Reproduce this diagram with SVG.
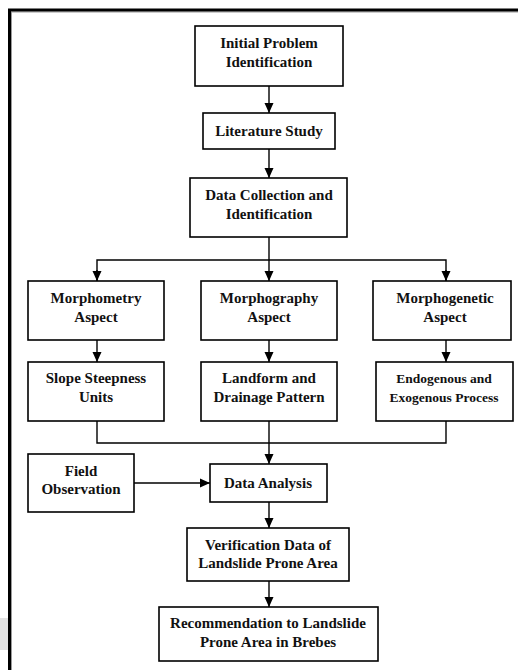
<svg xmlns="http://www.w3.org/2000/svg" width="518" height="670" viewBox="0 0 518 670">
<defs>
<style>
.box{fill:#fff;stroke:#000;stroke-width:1.6}
text{font-family:'Liberation Serif','DejaVu Serif',serif;font-weight:bold;font-size:15px;fill:#111;text-anchor:middle}
text.s{font-size:13.5px}
.c{fill:none;stroke:#000;stroke-width:1.4}
</style>
<marker id="ah" viewBox="0 0 10 10" refX="10" refY="5" markerWidth="10" markerHeight="10" markerUnits="userSpaceOnUse" orient="auto">
<path d="M0,0.5 L10,5 L0,9.5 Z" fill="#000"/>
</marker>
</defs>
<rect x="0" y="0" width="518" height="670" fill="#fff"/>
<rect x="0" y="618" width="8" height="32" fill="#e2e2e2"/>
<g id="frame">
<line x1="11" y1="12" x2="518" y2="12" stroke="#9a9a9a" stroke-width="1"/>
<line x1="11.5" y1="12" x2="11.5" y2="670" stroke="#9a9a9a" stroke-width="1"/>
<line x1="8" y1="10" x2="518" y2="10" stroke="#000" stroke-width="3"/>
<line x1="9.5" y1="9" x2="9.5" y2="670" stroke="#000" stroke-width="3"/>
</g>
<g id="connectors">
<line class="c" x1="269" y1="86" x2="269" y2="113" marker-end="url(#ah)"/>
<line class="c" x1="269" y1="149" x2="269" y2="178" marker-end="url(#ah)"/>
<line class="c" x1="269" y1="237" x2="269" y2="281" marker-end="url(#ah)"/>
<polyline class="c" points="97,281 97,260 446,260 446,281"/>
<line class="c" x1="97" y1="270" x2="97" y2="281" marker-end="url(#ah)"/>
<line class="c" x1="446" y1="270" x2="446" y2="281" marker-end="url(#ah)"/>
<line class="c" x1="97" y1="340" x2="97" y2="362" marker-end="url(#ah)"/>
<line class="c" x1="269" y1="340" x2="269" y2="362" marker-end="url(#ah)"/>
<line class="c" x1="446" y1="340" x2="446" y2="362" marker-end="url(#ah)"/>
<polyline class="c" points="97,421 97,443 446,443 446,421"/>
<line class="c" x1="269" y1="421" x2="269" y2="464" marker-end="url(#ah)"/>
<line class="c" x1="134" y1="483" x2="210" y2="483" marker-end="url(#ah)"/>
<line class="c" x1="269" y1="502" x2="269" y2="528" marker-end="url(#ah)"/>
<line class="c" x1="269" y1="581" x2="269" y2="607" marker-end="url(#ah)"/>
</g>
<g id="initial">
<rect class="box" x="195" y="26" width="148" height="60"/>
<text x="269" y="48">Initial Problem</text>
<text x="269" y="67">Identification</text>
</g>
<g id="literature">
<rect class="box" x="203" y="113" width="132" height="36"/>
<text x="269" y="136">Literature Study</text>
</g>
<g id="datacollection">
<rect class="box" x="190" y="178" width="157" height="59"/>
<text x="269" y="200">Data Collection and</text>
<text x="269" y="219">Identification</text>
</g>
<g id="morphometry">
<rect class="box" x="28" y="281" width="136" height="59"/>
<text x="96" y="303">Morphometry</text>
<text x="96" y="322">Aspect</text>
</g>
<g id="morphography">
<rect class="box" x="201" y="281" width="136" height="59"/>
<text x="269" y="303">Morphography</text>
<text x="269" y="322">Aspect</text>
</g>
<g id="morphogenetic">
<rect class="box" x="373" y="281" width="138" height="59"/>
<text x="445" y="303">Morphogenetic</text>
<text x="445" y="322">Aspect</text>
</g>
<g id="slope">
<rect class="box" x="28" y="362" width="136" height="59"/>
<text x="96" y="383">Slope Steepness</text>
<text x="96" y="402">Units</text>
</g>
<g id="landform">
<rect class="box" x="201" y="362" width="136" height="59"/>
<text x="269" y="383">Landform and</text>
<text x="269" y="402">Drainage Pattern</text>
</g>
<g id="endogenous">
<rect class="box" x="376" y="362" width="137" height="59"/>
<text class="s" x="444" y="383">Endogenous and</text>
<text class="s" x="444" y="402">Exogenous Process</text>
</g>
<g id="field">
<rect class="box" x="28" y="454" width="106" height="58"/>
<text x="81" y="476">Field</text>
<text x="81" y="494">Observation</text>
</g>
<g id="analysis">
<rect class="box" x="210" y="464" width="117" height="38"/>
<text x="268" y="488">Data Analysis</text>
</g>
<g id="verification">
<rect class="box" x="187" y="528" width="162" height="53"/>
<text x="268" y="550">Verification Data of</text>
<text x="268" y="568">Landslide Prone Area</text>
</g>
<g id="recommendation">
<rect class="box" x="159" y="607" width="219" height="54"/>
<text x="268" y="628">Recommendation to Landslide</text>
<text x="268" y="647">Prone Area in Brebes</text>
</g>
</svg>
